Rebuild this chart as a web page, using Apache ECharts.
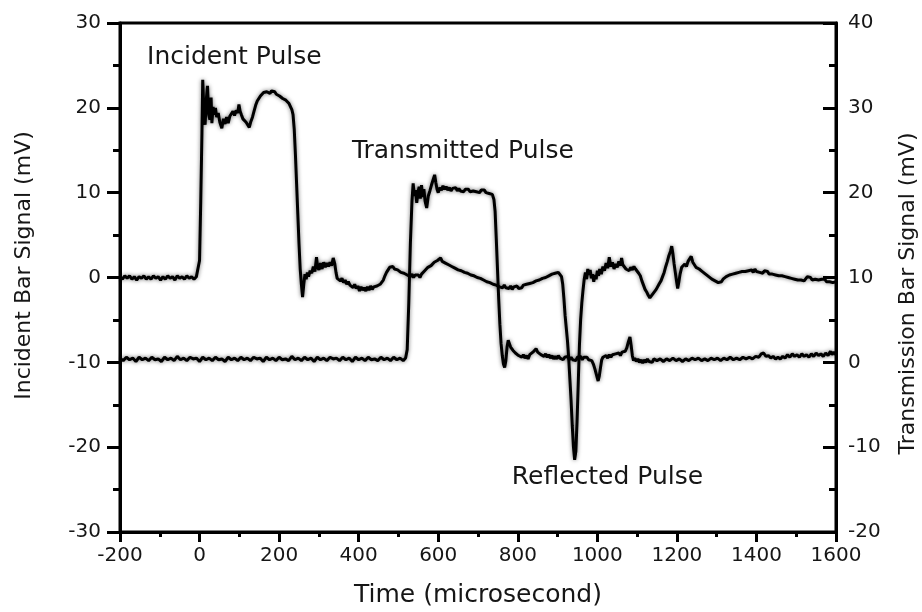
<!DOCTYPE html>
<html>
<head>
<meta charset="utf-8">
<script src="https://cdn.jsdelivr.net/npm/echarts@6/dist/echarts.min.js"></script>
<style>
  html, body { margin: 0; padding: 0; background: #fff; }
  #chart { width: 922px; height: 612px; }
</style>
</head>
<body>
<div id="chart"></div>
<script>
// Incident bar strain-gauge record: [time (µs), signal (mV)], left axis
const incidentSignal = [
  [-200,0.1],[-194,-0.2],[-188,0.2],[-182,-0.1],[-176,0.2],[-170,-0.2],[-164,0.1],[-158,-0.3],[-152,0.1],[-146,-0.1],
  [-140,0.2],[-134,-0.2],[-128,0.1],[-122,-0.2],[-116,0.2],[-110,-0.1],[-104,0.1],[-98,-0.3],[-92,0.1],[-86,-0.2],
  [-80,0.2],[-74,-0.1],[-68,0.1],[-62,-0.3],[-56,0.2],[-50,-0.1],[-44,0.1],[-38,-0.2],[-32,0.2],[-26,-0.1],
  [-20,0.1],[-14,-0.2],[-8,0.1],[-3,0.3],
  [0,2.0],[3,9],[6,17],[8,23.3],[11,19.5],[14,18.0],[17,21.0],[20,22.6],[23,19.2],[26,18.6],[29,21.2],[31,18.2],
  [34,20.1],[37,19.2],[40,20.0],[43,18.9],[47,19.4],[51,18.3],[56,17.6],[60,18.7],[64,18.1],[68,18.9],[72,18.2],
  [76,19.0],[80,19.3],[84,19.6],[88,19.1],[92,19.7],[96,19.4],[99,20.4],[102,19.6],[105,19.2],[109,18.7],[113,18.9],
  [117,18.3],[121,18.2],[125,17.7],[129,18.4],[133,18.9],[137,19.6],[141,20.3],[145,20.8],[149,21.1],[153,21.4],
  [157,21.5],[161,21.8],[165,21.6],[169,21.9],[173,22.0],[177,21.7],[181,22.0],[185,21.8],[189,21.9],[193,21.6],
  [197,21.7],[201,21.4],[205,21.5],[209,21.1],[213,21.2],[217,20.9],[221,20.8],[225,20.5],[229,20.4],[232,19.8],
  [235,19.2],[238,17.5],[241,14.5],[244,11.0],[247,7.5],[250,4.0],[253,1.0],[256,-0.8],[259,-2.3],[262,-0.8],
  [265,0.4],[268,-0.2],[271,0.6],[274,0.1],[278,0.8],[282,0.5],[286,1.3],[290,0.7],[294,2.4],[297,1.2],[300,0.9],
  [304,1.7],[308,1.0],[312,1.8],[316,1.2],[320,1.7],[324,1.3],[328,1.8],[332,1.4],[336,2.3],[340,1.6],[343,0.6],
  [346,-0.1],[350,0.1],[354,-0.4],[358,-0.1],[362,-0.6],[366,-0.3],[370,-0.8],[374,-0.5],[378,-0.9],[382,-0.7],
  [386,-1.2],[390,-0.8],[394,-1.3],[398,-1.0],[402,-1.6],[406,-1.1],[410,-1.5],[414,-1.2],[418,-1.6],[422,-1.1],
  [426,-1.5],[430,-1.0],[434,-1.4],[438,-1.1],[442,-1.3],[446,-1.0],[450,-1.2],[454,-0.8],[458,-0.7],[462,-0.3],
  [466,0.2],[470,0.6],[474,0.9],[478,1.2],[482,1.0],[486,1.3],[490,1.0],[494,1.2],[498,0.9],[502,1.0],[506,0.6],
  [510,0.8],[514,0.5],[518,0.7],[522,0.3],[526,0.5],[530,0.1],[534,0.4],[538,0.0],[542,0.3],[546,0.1],[550,0.3],
  [554,0.0],[558,0.4],[562,0.5],[566,0.8],[570,0.9],[574,1.2],[578,1.1],[582,1.4],[586,1.5],[590,1.8],[594,1.7],
  [598,2.0],[602,1.9],[606,2.3],[610,1.9],[614,2.1],[618,1.7],[622,1.9],[626,1.5],[630,1.6],[634,1.3],[638,1.5],
  [642,1.1],[646,1.2],[650,0.9],[654,1.1],[658,0.8],[662,0.9],[666,0.6],[670,0.8],[674,0.5],[678,0.6],[682,0.3],
  [686,0.5],[690,0.2],[694,0.3],[698,0.0],[702,0.2],[706,-0.1],[710,0.0],[714,-0.3],[718,-0.2],[722,-0.5],
  [726,-0.3],[730,-0.6],[734,-0.5],[738,-0.8],[742,-0.6],[746,-0.9],[750,-0.8],[754,-1.1],[758,-0.9],[762,-1.2],
  [766,-0.9],[770,-1.2],[774,-1.0],[778,-1.3],[782,-1.0],[786,-1.4],[790,-1.1],[794,-1.3],[798,-1.0],[802,-1.3],
  [806,-1.1],[810,-1.2],[814,-0.9],[818,-1.1],[822,-0.8],[826,-1.0],[830,-0.7],[834,-0.9],[838,-0.6],[842,-0.7],
  [846,-0.4],[850,-0.6],[854,-0.3],[858,-0.4],[862,-0.1],[866,-0.3],[870,0.0],[874,-0.1],[878,0.2],[882,0.1],
  [886,0.4],[890,0.2],[894,0.5],[898,0.3],[902,0.6],[906,0.4],[910,0.1],[913,-0.8],[916,-2.5],[919,-4.5],
  [922,-6.0],[925,-7.5],[928,-9.5],[931,-12],[934,-14.5],[937,-17.5],[940,-20],[943,-21.5],[946,-20.5],[949,-17],
  [952,-12.5],[955,-8],[958,-5],[961,-3],[964,-1.5],[967,-0.2],[970,0.6],[973,-0.2],[976,1.0],[979,0.3],[982,0.9],
  [985,-0.1],[988,0.4],[991,-0.5],[994,0.3],[997,-0.2],[1000,0.8],[1003,0.2],[1006,1.0],[1010,0.4],[1014,1.3],
  [1018,0.8],[1022,1.7],[1026,1.1],[1030,2.4],[1034,1.3],[1038,1.8],[1042,1.0],[1046,1.6],[1050,1.2],[1054,1.9],
  [1058,1.4],[1061,2.3],[1064,1.5],[1068,1.7],[1072,1.0],[1076,1.2],[1080,0.8],[1084,1.2],[1088,0.9],[1092,1.3],
  [1096,1.0],[1100,1.1],[1104,0.5],[1108,0.2],[1112,-0.4],[1116,-0.9],[1120,-1.4],[1124,-1.7],[1128,-2.1],
  [1132,-2.4],[1136,-2.2],[1140,-1.9],[1144,-1.8],[1148,-1.4],[1152,-1.2],[1156,-0.7],[1160,-0.4],[1164,0.1],
  [1168,0.6],[1172,1.3],[1176,1.9],[1180,2.6],[1184,3.1],[1187,3.7],[1190,2.8],[1193,1.6],[1196,0.6],[1199,-0.4],
  [1202,-1.3],[1205,-0.5],[1208,0.4],[1212,1.2],[1216,1.0],[1220,1.6],[1224,1.3],[1228,1.9],[1232,2.2],[1236,2.5],
  [1240,1.8],[1244,1.6],[1248,1.2],[1252,1.4],[1256,1.0],[1260,1.2],[1264,0.7],[1268,0.8],[1272,0.4],[1276,0.5],
  [1280,0.1],[1284,0.2],[1288,-0.2],[1292,-0.1],[1296,-0.4],[1300,-0.3],[1304,-0.6],[1308,-0.4],[1312,-0.5],
  [1316,-0.2],[1320,-0.3],[1324,0.1],[1328,-0.1],[1332,0.3],[1336,0.1],[1340,0.4],[1344,0.2],[1348,0.5],[1352,0.3],
  [1356,0.6],[1360,0.4],[1364,0.7],[1368,0.5],[1372,0.7],[1376,0.5],[1380,0.8],[1384,0.6],[1388,0.9],[1392,0.6],
  [1396,1.0],[1400,0.7],[1404,0.9],[1408,0.6],[1412,0.8],[1416,0.5],[1420,0.8],[1424,0.6],[1428,0.7],[1432,0.4],
  [1436,0.6],[1440,0.4],[1444,0.6],[1448,0.3],[1452,0.5],[1456,0.2],[1460,0.4],[1464,0.2],[1468,0.3],[1472,0.1],
  [1476,0.3],[1480,0.0],[1484,0.2],[1488,-0.1],[1492,0.1],[1496,-0.2],[1500,0.0],[1504,-0.3],[1508,-0.1],
  [1512,-0.3],[1516,-0.1],[1520,-0.4],[1524,-0.2],[1528,0.1],[1532,-0.1],[1536,0.0],[1540,-0.3],[1544,-0.1],
  [1548,-0.2],[1552,0.0],[1556,-0.3],[1560,-0.1],[1564,-0.2],[1568,-0.4],[1572,-0.2],[1576,-0.5],[1580,-0.3],
  [1584,-0.5],[1588,-0.3],[1592,-0.6],[1596,-0.4],[1600,-0.5]
];

// Transmission bar strain-gauge record: [time (µs), signal (mV)], right axis
const transmissionSignal = [
  [-200,0.5],[-192,0.2],[-184,0.6],[-176,0.3],[-168,0.5],[-160,0.1],[-152,0.6],[-144,0.3],[-136,0.5],[-128,0.2],
  [-120,0.6],[-112,0.3],[-104,0.4],[-96,0.1],[-88,0.6],[-80,0.3],[-72,0.5],[-64,0.2],[-56,0.7],[-48,0.3],
  [-40,0.5],[-32,0.2],[-24,0.6],[-16,0.4],[-8,0.5],[0,0.1],[8,0.6],[16,0.3],[24,0.5],[32,0.2],
  [40,0.6],[48,0.3],[56,0.4],[64,0.1],[72,0.6],[80,0.3],[88,0.5],[96,0.2],[104,0.6],[112,0.3],
  [120,0.5],[128,0.2],[136,0.6],[144,0.4],[152,0.5],[160,0.1],[168,0.6],[176,0.3],[184,0.5],[192,0.2],
  [200,0.6],[208,0.3],[216,0.4],[224,0.2],[232,0.7],[240,0.3],[248,0.5],[256,0.2],[264,0.6],[272,0.3],
  [280,0.5],[288,0.1],[296,0.6],[304,0.3],[312,0.5],[320,0.2],[328,0.6],[336,0.4],[344,0.5],[352,0.2],
  [360,0.6],[368,0.3],[376,0.5],[384,0.1],[392,0.6],[400,0.3],[408,0.5],[416,0.2],[424,0.6],[432,0.3],
  [440,0.4],[448,0.2],[456,0.6],[464,0.3],[472,0.5],[480,0.2],[488,0.6],[496,0.3],[504,0.5],[512,0.2],[518,0.5],
  [522,1.5],[526,7],[530,14],[534,19],[537,21.1],[540,19.6],[543,20.3],[546,18.8],[549,20.0],[552,20.7],
  [555,19.3],[558,20.9],[561,19.5],[564,20.4],[567,19.0],[571,18.2],[575,19.6],[579,20.2],[583,20.9],[587,21.5],
  [591,22.1],[594,21.2],[597,20.4],[600,20.0],[604,20.6],[608,20.3],[612,20.8],[616,20.4],[620,20.7],[624,20.3],
  [628,20.6],[632,20.2],[636,20.5],[640,20.3],[644,20.6],[648,20.2],[652,20.5],[656,20.2],[660,20.4],[664,20.1],
  [668,20.4],[672,20.2],[676,20.4],[680,20.1],[684,20.3],[688,20.2],[692,20.4],[696,20.1],[700,20.3],[704,20.0],
  [708,20.3],[712,20.1],[716,20.3],[720,20.0],[724,20.2],[728,19.9],[732,20.1],[736,19.8],[740,19.2],[743,17.8],
  [746,14.5],[749,11.0],[752,7.5],[755,4.5],[758,2.2],[761,0.8],[764,-0.2],[767,-0.6],[770,0.2],[773,1.8],
  [776,2.6],[779,2.2],[782,1.8],[785,2.0],[788,1.4],[791,1.5],[794,1.1],[798,1.2],[802,0.8],[806,1.0],
  [810,0.6],[814,0.9],[818,0.5],[822,0.8],[826,0.4],[830,0.9],[834,0.7],[838,1.2],[842,1.0],[846,1.6],
  [850,1.2],[854,1.3],[858,0.9],[862,1.1],[866,0.7],[870,1.0],[874,0.6],[878,0.9],[882,0.5],[886,0.8],
  [890,0.4],[894,0.7],[898,0.4],[902,0.8],[906,0.5],[910,0.7],[914,0.3],[918,0.6],[922,0.4],[926,0.7],
  [930,0.3],[934,0.6],[938,0.3],[942,0.5],[946,0.2],[950,0.6],[954,0.4],[958,0.7],[962,0.3],[966,0.6],
  [970,0.4],[974,0.6],[978,0.3],[982,0.5],[986,0.2],[990,-0.2],[994,-0.8],[998,-1.5],[1002,-2.2],[1005,-1.6],
  [1008,-0.6],[1011,0.3],[1014,0.6],[1018,0.4],[1022,0.8],[1026,0.5],[1030,0.9],[1034,0.6],[1038,0.9],[1042,0.7],
  [1046,1.0],[1050,0.8],[1054,1.1],[1058,0.8],[1062,1.2],[1066,1.0],[1070,1.3],[1074,1.7],[1078,2.4],[1082,3.0],
  [1085,2.0],[1088,0.8],[1091,0.2],[1094,0.5],[1098,0.1],[1102,0.4],[1106,0.0],[1110,0.3],[1114,-0.1],[1118,0.3],
  [1122,0.0],[1126,0.4],[1130,0.1],[1134,0.3],[1138,0.0],[1142,0.4],[1150,0.2],[1158,0.4],[1166,0.1],[1174,0.4],
  [1182,0.2],[1190,0.5],[1198,0.2],[1206,0.4],[1214,0.1],[1222,0.4],[1230,0.2],[1238,0.5],[1246,0.3],[1254,0.5],
  [1262,0.2],[1270,0.4],[1278,0.2],[1286,0.5],[1294,0.3],[1302,0.5],[1310,0.2],[1318,0.5],[1326,0.3],[1334,0.6],
  [1342,0.3],[1350,0.5],[1358,0.3],[1366,0.6],[1374,0.4],[1382,0.6],[1390,0.4],[1398,0.7],[1406,0.6],[1412,1.0],
  [1418,1.1],[1424,0.7],[1430,0.8],[1436,0.5],[1442,0.7],[1448,0.4],[1454,0.6],[1460,0.4],[1466,0.7],[1472,0.5],
  [1478,0.9],[1484,0.6],[1490,1.0],[1496,0.7],[1502,0.9],[1508,0.6],[1514,1.0],[1520,0.7],[1526,0.9],[1532,0.6],
  [1538,1.0],[1544,0.7],[1550,1.1],[1556,0.8],[1562,1.0],[1568,0.7],[1574,1.1],[1580,0.8],[1586,1.3],[1590,0.9],
  [1594,1.2],[1600,0.9]
];

// Pulse annotations, anchored in time (µs) and incident-axis level (mV)
const pulseLabels = ['Incident Pulse', 'Transmitted Pulse', 'Reflected Pulse'];
const pulseLabelTime = [-132, 383, 785];
const pulseLabelLevel = [25.9, 14.8, -23.6];

const FONT = '"DejaVu Sans", Arial, sans-serif';
const INK = '#161616';
const AXIS = '#000';

const chart = echarts.init(document.getElementById('chart'), null, { renderer: 'canvas' });

const traceStyle = {
  color: '#000',
  width: 3,
  shadowColor: 'rgba(0,0,0,0.55)',
  shadowBlur: 4
};

// Plain integers on the axes (no thousands separators)
const plainNumber = function (v) { return String(v); };

chart.setOption({
  animation: false,
  backgroundColor: '#fff',
  grid: {
    left: 120, right: 86, top: 23, bottom: 80,
    containLabel: false, outerBoundsMode: 'none',
    show: true, borderColor: AXIS, borderWidth: 3, backgroundColor: 'transparent'
  },
  xAxis: {
    type: 'value', min: -200, max: 1600, interval: 200,
    name: 'Time (microsecond)', nameLocation: 'middle', nameGap: 51,
    nameTextStyle: { fontFamily: FONT, fontSize: 25, color: INK },
    axisLine: { show: true, onZero: false, lineStyle: { color: AXIS, width: 3 } },
    axisTick: { show: true, length: 10, lineStyle: { color: AXIS, width: 3 } },
    minorTick: { show: true, splitNumber: 2, length: 5, lineStyle: { color: AXIS, width: 3 } },
    splitLine: { show: false },
    axisLabel: { fontFamily: FONT, fontSize: 20, color: INK, margin: 14, formatter: plainNumber }
  },
  yAxis: [
    {
      type: 'value', position: 'left', min: -30, max: 30, interval: 10,
      name: 'Incident Bar Signal (mV)', nameLocation: 'middle', nameRotate: 90, nameGap: 85,
      nameTextStyle: { fontFamily: FONT, fontSize: 22, color: INK, padding: [0, 0, 0, 24] },
      axisLine: { show: true, onZero: false, lineStyle: { color: AXIS, width: 3 } },
      axisTick: { show: true, length: 13, lineStyle: { color: AXIS, width: 3 } },
      minorTick: { show: true, splitNumber: 2, length: 7, lineStyle: { color: AXIS, width: 3 } },
      splitLine: { show: false },
      axisLabel: { fontFamily: FONT, fontSize: 20, color: INK, margin: 19, formatter: plainNumber }
    },
    {
      type: 'value', position: 'right', min: -20, max: 40, interval: 10,
      name: 'Transmission Bar Signal (mV)', nameLocation: 'middle', nameRotate: 90, nameGap: 61,
      nameTextStyle: { fontFamily: FONT, fontSize: 22, color: INK, padding: [0, 32, 0, 0] },
      axisLine: { show: true, onZero: false, lineStyle: { color: AXIS, width: 3 } },
      axisTick: { show: true, inside: true, length: 13, lineStyle: { color: AXIS, width: 3 } },
      minorTick: { show: true, splitNumber: 2, length: 7, lineStyle: { color: AXIS, width: 3 } },
      splitLine: { show: false },
      axisLabel: { fontFamily: FONT, fontSize: 20, color: INK, margin: 12, formatter: plainNumber }
    }
  ],
  series: [
    {
      name: 'Incident bar', type: 'line', yAxisIndex: 0, data: incidentSignal,
      showSymbol: false, silent: true, lineStyle: traceStyle
    },
    {
      name: 'Transmission bar', type: 'line', yAxisIndex: 1, data: transmissionSignal,
      showSymbol: false, silent: true, lineStyle: traceStyle
    }
  ]
});

// Place the pulse captions at their data positions
chart.setOption({
  graphic: pulseLabels.map(function (txt, i) {
    const p = chart.convertToPixel({ xAxisIndex: 0, yAxisIndex: 0 }, [pulseLabelTime[i], pulseLabelLevel[i]]);
    return {
      type: 'text', x: p[0], y: p[1], silent: true,
      style: {
        text: txt, fill: INK, fontFamily: FONT, fontSize: 25,
        align: 'left', verticalAlign: 'middle'
      }
    };
  })
});
</script>
</body>
</html>
